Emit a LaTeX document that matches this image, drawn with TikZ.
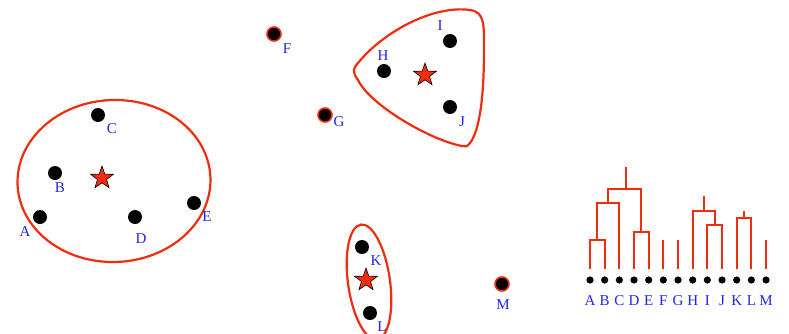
\documentclass[tikz,border=0pt]{standalone}
\usepackage{fontspec}
\setmainfont{Liberation Serif}
\usetikzlibrary{positioning,shapes.geometric}
\definecolor{clred}{RGB}{240,45,15}
\definecolor{lblue}{RGB}{35,35,235}

\begin{document}
\begin{tikzpicture}[
  x=0.5pt, y=-0.5pt,
  font=\fontsize{7.5}{8}\selectfont,
  pt/.style={circle, fill=black, minimum size=7pt, inner sep=0pt},
  lonept/.style={pt, draw=clred, line width=0.8pt, minimum size=7pt},
  ctr/.style={star, star points=5, star point ratio=2.5, draw=black, fill=clred, line width=0.3pt, minimum size=12pt, inner sep=0pt},
  clus/.style={draw=clred, line width=1.1pt},
  lbl/.style={text=lblue, inner sep=0pt},
  leaf/.style={circle, fill=black, minimum size=3.6pt, inner sep=0pt},
  dend/.style={draw=clred, line width=1.1pt}
]
  \useasboundingbox (0,0) rectangle (789,333);

  % cluster A--E
  \node[clus, ellipse, minimum width=96.5pt, minimum height=81pt, rotate=2] (c1) at (114,181) {};
  \node[pt] (pA) at (40,217) {};
  \node[pt] (pB) at (55,173) {};
  \node[pt] (pC) at (98,115) {};
  \node[pt] (pD) at (135,217) {};
  \node[pt] (pE) at (194,203) {};
  \node[ctr] (s1) at (102,178) {};
  \node[lbl] (nA) at (25,232) {A};
  \node[lbl] (nB) at (60,188) {B};
  \node[lbl] (nC) at (112,129) {C};
  \node[lbl] (nD) at (141,239) {D};
  \node[lbl] (nE) at (207,217) {E};

  % outliers
  \node[lonept] (pF) at (274,34) {};
  \node[lonept] (pG) at (325,115) {};
  \node[lonept] (pM) at (502,284) {};
  \node[lbl] (nF) at (287,49) {F};
  \node[lbl] (nG) at (339,122) {G};
  \node[lbl] (nM) at (503,305) {M};

  % cluster H--J
  \draw[clus] (358,63) .. controls (385,30) and (435,5) .. (470,10)
    .. controls (485,12) and (484,25) .. (484,50)
    .. controls (484,95) and (480,130) .. (470,143)
    .. controls (467,147) and (465,147) .. (462,146)
    .. controls (430,140) and (370,105) .. (358,80)
    .. controls (352,72) and (353,68) .. (358,63) -- cycle;
  \node[pt] (pH) at (384,71) {};
  \node[pt] (pI) at (450,41) {};
  \node[pt] (pJ) at (450,107) {};
  \node[ctr] (s2) at (425,75) {};
  \node[lbl] (nH) at (383,56) {H};
  \node[lbl] (nI) at (440,26) {I};
  \node[lbl] (nJ) at (462,122) {J};

  % cluster K--L
  \node[clus, ellipse, minimum width=21pt, minimum height=58pt, rotate=8] (c3) at (369,282) {};
  \node[pt] (pK) at (362,247) {};
  \node[pt] (pL) at (370,313) {};
  \node[ctr] (s3) at (366,280) {};
  \node[lbl] (nK) at (376,261) {K};
  \node[lbl] (nL) at (382,327) {L};

  % dendrogram
  \foreach \n [count=\i from 0] in {A,B,C,D,E,F,G,H,I,J,K,L,M} {
    \node[leaf] (l\n) at ({590+14.67*\i},280) {};
    \node[lbl] (d\n) at ({590+14.67*\i},301) {\n};
    \coordinate (t\n) at ({590+14.67*\i},269);
  }
  \coordinate (mAB) at (597,240);
  \coordinate (mABC) at (608,203);
  \coordinate (mDE) at (641,232);
  \coordinate (mAE) at (626,189);
  \coordinate (rAE) at (626,167);
  \draw[dend] (tA) |- (mAB) -| (tB);
  \draw[dend] (mAB) |- (mABC) -| (tC);
  \draw[dend] (tD) |- (mDE) -| (tE);
  \draw[dend] (mABC) |- (mAE) -| (mDE);
  \draw[dend] (mAE) -- (rAE);

  \coordinate (mIJ) at (715,225);
  \coordinate (mHJ) at (704,211);
  \coordinate (rHJ) at (704,196);
  \draw[dend] (tI) |- (mIJ) -| (tJ);
  \draw[dend] (tH) |- (mHJ) -| (mIJ);
  \draw[dend] (mHJ) -- (rHJ);

  \coordinate (mKL) at (744,218);
  \coordinate (rKL) at (744,211);
  \draw[dend] (tK) |- (mKL) -| (tL);
  \draw[dend] (mKL) -- (rKL);

  \foreach \n in {F,G,M}
    \draw[dend] (t\n) -- (t\n |- mAB);
\end{tikzpicture}
\end{document}
